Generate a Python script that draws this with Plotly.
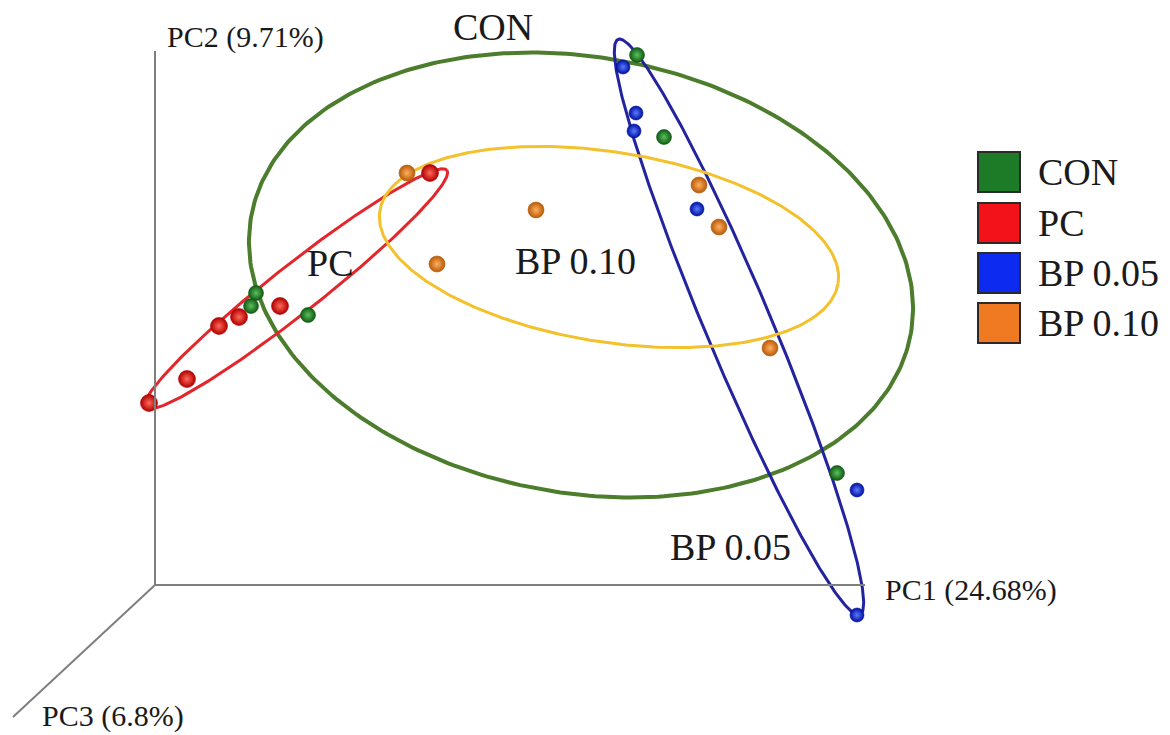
import numpy as np
import plotly.graph_objects as go

# ---- data (projected positions, pixel-like plane units) ----
groups = ["CON", "PC", "BP 0.05", "BP 0.10"]
con_x = [637, 664, 256, 251, 308, 837]
con_y = [55, 137, 293, 306, 315, 473]
pc_x = [430, 280, 239, 219, 187, 149]
pc_y = [173, 306, 317, 326, 379, 403]
bp05_x = [623, 636, 634, 697, 857, 857]
bp05_y = [67, 113, 131, 209, 490, 615]
bp10_x = [407, 437, 536, 699, 719, 770]
bp10_y = [173, 264, 210, 185, 227, 348]

# confidence ellipses: centre x, centre y, semi-major, semi-minor, angle (deg)
ell_cx = [581, 296, 739, 609]
ell_cy = [275, 289, 327, 247]
ell_a = [335, 192, 312, 232]
ell_b = [218, 24, 33, 95]
ell_ang = [10, -38.2, 67.2, 9]

axis_labels = ["PC1 (24.68%)", "PC2 (9.71%)", "PC3 (6.8%)"]

# ---- styles ----
pt_dark = ["#0f5a14", "#b00000", "#0010a0", "#b85a08"]
pt_light = ["#5cc05a", "#ff6a5a", "#5a7aff", "#ffb060"]
pt_size = [15, 17, 14, 16]
ell_col = ["#4c7d2c", "#e4262c", "#23239f", "#f3c12c"]
ell_w = [4, 3, 3, 3]
leg_col = ["#1d7b27", "#f4121a", "#0c2af0", "#f07a22"]
font_serif = "Liberation Serif, Times New Roman, serif"

fig = go.Figure()

# ellipses
t = np.linspace(0, 2 * np.pi, 361)
for i, g in enumerate(groups):
    th = np.deg2rad(ell_ang[i])
    ex = ell_cx[i] + ell_a[i] * np.cos(t) * np.cos(th) - ell_b[i] * np.sin(t) * np.sin(th)
    ey = ell_cy[i] + ell_a[i] * np.cos(t) * np.sin(th) + ell_b[i] * np.sin(t) * np.cos(th)
    fig.add_trace(go.Scatter(x=ex, y=ey, mode="lines",
                             line=dict(color=ell_col[i], width=ell_w[i]),
                             hoverinfo="skip", showlegend=False))

# points
xs = [con_x, pc_x, bp05_x, bp10_x]
ys = [con_y, pc_y, bp05_y, bp10_y]
for i, g in enumerate(groups):
    fig.add_trace(go.Scatter(
        x=xs[i], y=ys[i], mode="markers", name=g, showlegend=False,
        marker=dict(size=pt_size[i], color=pt_dark[i],
                    gradient=dict(type="radial", color=pt_light[i]),
                    line=dict(width=0.6, color=pt_dark[i]))))

shapes = []
# 3D axes frame
ox, oy = 155, 585
axc = "#7f7f7f"
shapes.append(dict(type="line", x0=ox, y0=oy, x1=865, y1=oy, line=dict(color=axc, width=2)))
shapes.append(dict(type="line", x0=ox, y0=oy, x1=ox, y1=51, line=dict(color=axc, width=2)))
shapes.append(dict(type="line", x0=ox, y0=oy, x1=13, y1=717, line=dict(color=axc, width=2)))

annotations = []
annotations.append(dict(x=883, y=590, text=axis_labels[0], xanchor="left", yanchor="middle"))
annotations.append(dict(x=165, y=37, text=axis_labels[1], xanchor="left", yanchor="middle"))
annotations.append(dict(x=40, y=716, text=axis_labels[2], xanchor="left", yanchor="middle"))
for a in annotations:
    a.update(showarrow=False, xref="x", yref="y", font=dict(family=font_serif, size=30, color="#1a1a1a"))

# group labels in plot
lab_x = [493, 330, 730, 575]
lab_y = [27, 263, 547, 261]
for i, g in enumerate(groups):
    annotations.append(dict(x=lab_x[i], y=lab_y[i], text=g, showarrow=False, xref="x", yref="y",
                            xanchor="center", yanchor="middle",
                            font=dict(family=font_serif, size=38, color="#1a1a1a")))

# legend boxes
leg_y = [172, 223, 273, 323]
for i, g in enumerate(groups):
    shapes.append(dict(type="rect", x0=978, x1=1020, y0=leg_y[i] - 20, y1=leg_y[i] + 20,
                       fillcolor=leg_col[i], line=dict(color="#2a2a2a", width=2)))
    annotations.append(dict(x=1036, y=leg_y[i], text=g, showarrow=False, xref="x", yref="y",
                            xanchor="left", yanchor="middle",
                            font=dict(family=font_serif, size=38, color="#1a1a1a")))

fig.update_layout(
    width=1170, height=735,
    margin=dict(l=0, r=0, t=0, b=0),
    paper_bgcolor="white", plot_bgcolor="white",
    xaxis=dict(range=[0, 1170], visible=False, fixedrange=True),
    yaxis=dict(range=[735, 0], visible=False, fixedrange=True),
    shapes=shapes, annotations=annotations, showlegend=False,
)

fig.write_html("out.html", config={"displayModeBar": False},
               post_script="document.body.style.margin='0px';")
